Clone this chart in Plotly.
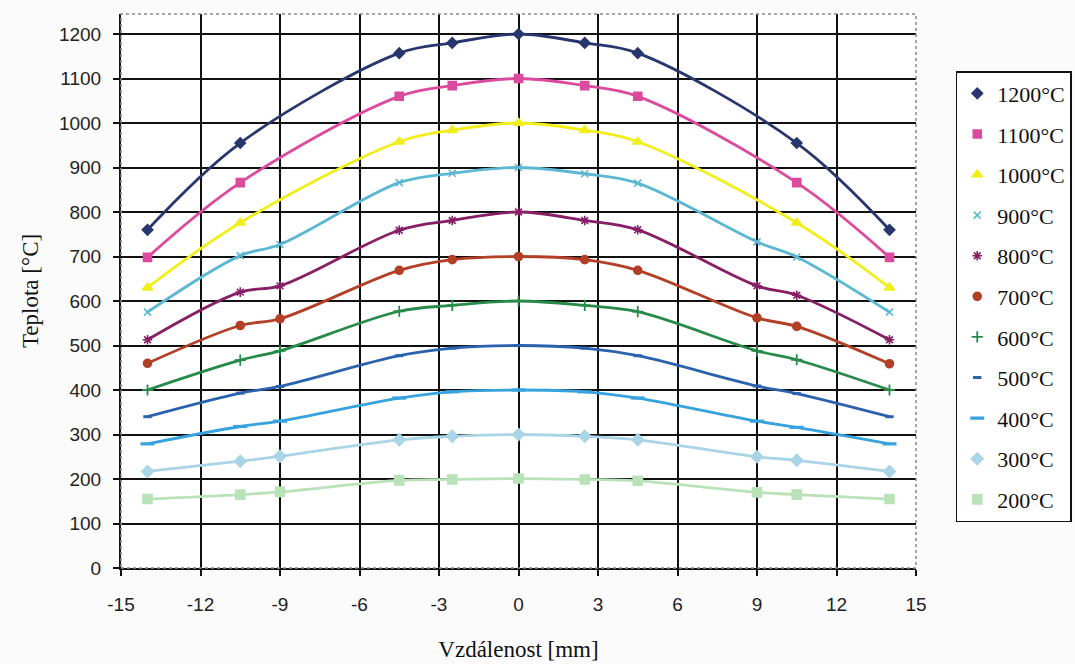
import plotly.graph_objects as go

x_outer = [-14, -10.5, -4.5, -2.5, 0, 2.5, 4.5, 10.5, 14]
x_full = [-14, -10.5, -9, -4.5, -2.5, 0, 2.5, 4.5, 9, 10.5, 14]

t1200 = [760, 955, 1157, 1180, 1200, 1180, 1157, 955, 760]
t1100 = [698, 866, 1060, 1084, 1100, 1084, 1060, 866, 698]
t1000 = [630, 776, 958, 984, 1000, 984, 958, 776, 630]
t900 = [575, 702, 727, 866, 887, 900, 886, 865, 733, 699, 575]
t800 = [513, 620, 634, 759, 781, 800, 781, 760, 634, 613, 513]
t700 = [460, 545, 560, 669, 693, 700, 693, 669, 562, 543, 459]
t600 = [400, 467, 488, 577, 590, 600, 590, 576, 488, 468, 400]
t500 = [340, 393, 408, 477, 494, 500, 494, 477, 409, 392, 340]
t400 = [279, 318, 330, 382, 396, 400, 396, 382, 330, 316, 279]
t300 = [217, 240, 251, 288, 296, 300, 296, 288, 250, 242, 217]
t200 = [155, 165, 171, 197, 199, 201, 199, 196, 170, 165, 155]

names = ["1200°C", "1100°C", "1000°C", "900°C", "800°C", "700°C",
         "600°C", "500°C", "400°C", "300°C", "200°C"]
xs = [x_outer, x_outer, x_outer] + [x_full] * 8
ys = [t1200, t1100, t1000, t900, t800, t700, t600, t500, t400, t300, t200]
colors = ["#28366e", "#dc4a9e", "#f2ee1c", "#5cb8d2", "#861f66", "#b23f26",
          "#278a48", "#2a62ad", "#36a2de", "#a9d5e6", "#b9e2b8"]
symbols = ["diamond", "square", "triangle-up", "x-thin-open", "asterisk-open",
           "circle", "cross-thin-open", "line-ew-open", "line-ew-open",
           "diamond", "square"]
msizes = [8, 8, 9, 7, 8, 8, 8, 6, 10, 9, 9]
mlw = [1.6, 1.6, 1.6, 1.6, 1.6, 1.6, 1.8, 3, 3.2, 1.6, 1.6]

x_tickvals = [-15, -12, -9, -6, -3, 0, 3, 6, 9, 12, 15]
x_ticktext = ["-15", "-12", "-9", "-6", "-3", "0", "3", "6", "9", "12", "15"]
y_tickvals = [0, 100, 200, 300, 400, 500, 600, 700, 800, 900, 1000, 1100, 1200]

serif = "Liberation Serif, Times New Roman, serif"
sans = "Liberation Sans, Arial, sans-serif"

fig = go.Figure()
for i in range(len(names)):
    fig.add_trace(go.Scatter(
        x=xs[i], y=ys[i], mode="lines", showlegend=False, hoverinfo="skip",
        line=dict(color=colors[i], width=2.8, shape="spline", smoothing=1.0),
    ))
for i in range(len(names)):
    fig.add_trace(go.Scatter(
        x=xs[i], y=ys[i], name=names[i], mode="markers",
        marker=dict(symbol=symbols[i], size=msizes[i], color=colors[i],
                    line=dict(color=colors[i], width=mlw[i])),
        legendgroup=names[i],
    ))

fig.update_layout(
    width=1075, height=664,
    margin=dict(l=121, r=159, t=14, b=96, autoexpand=False),
    paper_bgcolor="#fbfbfb", plot_bgcolor="#ffffff",
    font=dict(family=sans, size=19, color="#222222"),
    showlegend=True,
    legend=dict(
        x=1.05, xanchor="left", y=0.897, yanchor="top",
        bgcolor="#ffffff", bordercolor="#111111", borderwidth=1.5,
        font=dict(family=serif, size=22, color="#111111"),
        tracegroupgap=9, itemwidth=30,
    ),
    xaxis=dict(
        range=[-15, 15], tickvals=x_tickvals, ticktext=x_ticktext,
        showgrid=True, gridcolor="#111111", gridwidth=1.7,
        zeroline=False,
        showline=True, linecolor="#111111", linewidth=2,
        ticks="outside", ticklen=6, tickcolor="#111111", tickwidth=1.5,
        ticklabelstandoff=12,
        tickfont=dict(family=sans, size=19),
        title=dict(text="Vzdálenost [mm]", standoff=27,
                   font=dict(family=serif, size=23, color="#111111")),
    ),
    yaxis=dict(
        range=[0, 1245], tickvals=y_tickvals,
        showgrid=True, gridcolor="#111111", gridwidth=1.7,
        zeroline=False,
        showline=True, linecolor="#111111", linewidth=2,
        ticks="outside", ticklen=6, tickcolor="#111111", tickwidth=1.5,
        ticklabelstandoff=8,
        tickfont=dict(family=sans, size=19),
        title=dict(text="Teplota [°C]", standoff=14,
                   font=dict(family=serif, size=23, color="#111111")),
    ),
    shapes=[dict(type="rect", xref="paper", yref="paper", x0=0, y0=0, x1=1, y1=1,
                 line=dict(color="#888888", width=1.5, dash="dot"), layer="above")],
)

fig.write_html("out.html")
